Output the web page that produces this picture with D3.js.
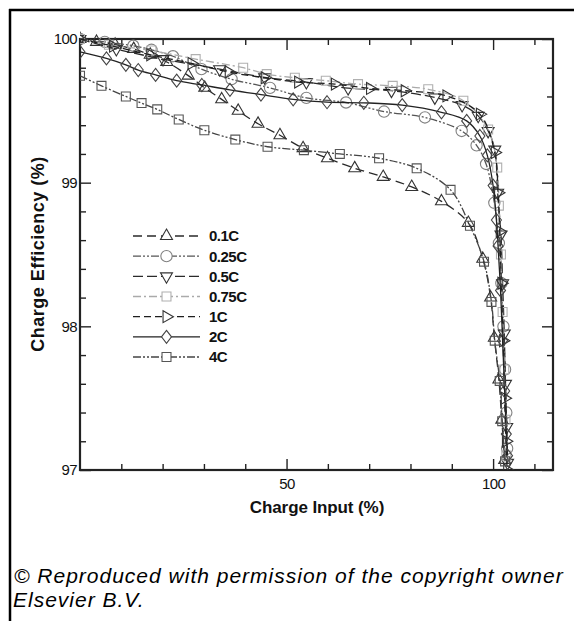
<!DOCTYPE html>
<html><head><meta charset="utf-8">
<script src="https://cdn.jsdelivr.net/npm/d3@7"></script>
<style>
html,body{margin:0;padding:0;background:#fff;}
svg{display:block;font-family:"Liberation Sans",Arial,Helvetica,sans-serif;}
</style></head>
<body>
<svg id="chart" width="574" height="621"></svg>
<script>
// ---------- data ----------
const seriesNames = ["0.1C","0.25C","0.5C","0.75C","1C","2C","4C"];

const x01C = [0, 4, 8.5, 13, 17, 21, 26.2, 30.2, 34.3, 38.3, 43.1, 48.4, 54.0, 59.9, 66.5, 73.4, 80.3, 87.5, 94.0, 97.5, 99.4, 100.3, 101.4, 102.1, 102.8];
const y01C = [100.0, 99.98, 99.96, 99.93, 99.89, 99.84, 99.745, 99.66, 99.58, 99.50, 99.41, 99.33, 99.24, 99.17, 99.10, 99.04, 98.97, 98.87, 98.72, 98.47, 98.2, 97.92, 97.63, 97.35, 97.07];

const x025C = [0, 6, 12.9, 17.3, 22.5, 29.4, 36.7, 46, 54.8, 64.4, 73.6, 83.5, 92.4, 96, 98.3, 100.3, 101.4, 102.0, 102.5, 102.9, 103.2, 103.4];
const y025C = [100.0, 99.98, 99.953, 99.925, 99.88, 99.79, 99.72, 99.66, 99.59, 99.558, 99.495, 99.454, 99.36, 99.26, 99.13, 98.86, 98.58, 98.3, 98.0, 97.7, 97.4, 97.15];

const x05C = [0, 8.8, 20.1, 33.8, 44.7, 54.8, 64.9, 75.4, 85.9, 92.5, 96.4, 98.8, 100.4, 101.1, 101.9, 102.3, 102.7, 103.0, 103.3, 103.5];
const y05C = [100.0, 99.93, 99.86, 99.79, 99.733, 99.70, 99.658, 99.64, 99.593, 99.54, 99.465, 99.36, 99.23, 98.93, 98.64, 98.3, 97.95, 97.6, 97.3, 97.05];

const x075C = [0, 7, 17.3, 28, 39.5, 45.2, 52, 59.5, 67.3, 75.7, 84.3, 92.8, 98.8, 101.0, 101.4, 101.9, 102.3, 102.7, 103.0, 103.2];
const y075C = [100.0, 99.96, 99.92, 99.86, 99.80, 99.756, 99.73, 99.71, 99.686, 99.674, 99.65, 99.57, 99.37, 99.105, 98.84, 98.5, 98.1, 97.7, 97.35, 97.1];

const x1C = [0, 8, 17, 27, 36, 44.7, 52.8, 61.7, 70.2, 78.6, 88.7, 96.8, 100.4, 101.2, 101.6, 102.0, 102.4, 102.8, 103.1, 103.4];
const y1C = [100.0, 99.95, 99.89, 99.83, 99.77, 99.73, 99.70, 99.686, 99.656, 99.64, 99.604, 99.477, 99.21, 98.93, 98.66, 98.3, 97.9, 97.5, 97.2, 97.0];

const x2C = [0, 6.4, 11.1, 14.1, 18.3, 23.4, 29.5, 36.3, 43.8, 51.6, 59.8, 68.7, 78.0, 87.5, 93.6, 96.8, 98.6, 100.0, 100.8, 101.2, 101.8, 102.3, 102.8, 103.2, 103.5];
const y2C = [99.91, 99.865, 99.82, 99.784, 99.75, 99.71, 99.68, 99.646, 99.613, 99.58, 99.56, 99.556, 99.54, 99.49, 99.43, 99.325, 99.19, 98.98, 98.74, 98.56, 98.25, 97.9, 97.55, 97.25, 97.1];

const x4C = [0, 5.2, 11.1, 14.9, 18.7, 23.9, 30.1, 37.6, 45.4, 54.2, 62.9, 72.4, 81.5, 89.7, 94.4, 97.8, 99.6, 100.4, 101.6, 102.2, 102.9];
const y4C = [99.744, 99.674, 99.60, 99.554, 99.51, 99.44, 99.365, 99.30, 99.25, 99.226, 99.20, 99.17, 99.10, 98.95, 98.70, 98.45, 98.17, 97.90, 97.62, 97.34, 97.06];

const xMajorTicks = [50, 100];
const xMinorTicks = [10, 20, 30, 40, 60, 70, 80, 90, 110];
const yMajorTicks = [97, 98, 99, 100];
const yMinorTicks = [97.2,97.4,97.6,97.8,98.2,98.4,98.6,98.8,99.2,99.4,99.6,99.8];

const xTitle = "Charge Input (%)";
const yTitle = "Charge Efficiency (%)";
const credit1 = "\u00A9 Reproduced with permission of the copyright owner";
const credit2 = "Elsevier B.V.";

// ---------- styles ----------
const styles = {
  "0.1C":  {sym: "triUp",    line:"#2a2a2a", mark:"#333", dash:"9,5"},
  "0.25C": {sym: "circle",   line:"#555",    mark:"#808080", dash:"8,2,2,2,2,2"},
  "0.5C":  {sym: "triDown",  line:"#2a2a2a", mark:"#333", dash:"10,4"},
  "0.75C": {sym: "square",   line:"#aaa",    mark:"#b0b0b0", dash:"8,3,2,3"},
  "1C":    {sym: "triRight", line:"#1e1e1e", mark:"#333", dash:"7,4"},
  "2C":    {sym: "diamond",  line:"#222",    mark:"#444", dash:null},
  "4C":    {sym: "square",   line:"#444",    mark:"#555", dash:"8,2,2,2,2,2"}
};
const seriesX = [x01C, x025C, x05C, x075C, x1C, x2C, x4C];
const seriesY = [y01C, y025C, y05C, y075C, y1C, y2C, y4C];
const series = seriesNames.map((n,i)=>({name:n, pts: seriesX[i].map((x,j)=>({x, y: seriesY[i][j]}))}));

// ---------- layout ----------
const svg = d3.select("#chart");
const L = 80, R = 553, T = 39, B = 470;
const x = d3.scaleLinear().domain([0, 114.5]).range([L, R]);
const y = d3.scaleLinear().domain([97, 100]).range([B, T]);

// outer frame
svg.append("line").attr("x1",9).attr("x2",574).attr("y1",10).attr("y2",10).attr("stroke","#000").attr("stroke-width",2.5);
svg.append("line").attr("x1",10).attr("x2",10).attr("y1",9).attr("y2",621).attr("stroke","#000").attr("stroke-width",2.5);

// axes
function styleAxis(g){ g.select(".domain").remove(); g.selectAll("line").attr("stroke","#222").attr("stroke-width",1.4); g.selectAll("text").attr("fill","#111"); }
const tickFont = g => g.selectAll("text").style("font-size","15px").style("letter-spacing","-0.6px");

svg.append("g").attr("transform",`translate(0,${B})`).call(d3.axisBottom(x).tickValues(xMinorTicks).tickSize(-6).tickFormat("")).call(styleAxis);
svg.append("g").attr("transform",`translate(0,${B})`).call(d3.axisBottom(x).tickValues(xMajorTicks).tickSize(-11).tickPadding(8).tickFormat(d3.format("d"))).call(styleAxis).call(tickFont);
svg.append("g").attr("transform",`translate(0,${T})`).call(d3.axisTop(x).tickValues(xMinorTicks).tickSize(-6).tickFormat("")).call(styleAxis);
svg.append("g").attr("transform",`translate(0,${T})`).call(d3.axisTop(x).tickValues(xMajorTicks).tickSize(-11).tickFormat("")).call(styleAxis);

svg.append("g").attr("transform",`translate(${L},0)`).call(d3.axisLeft(y).tickValues(yMinorTicks).tickSize(-6).tickFormat("")).call(styleAxis);
svg.append("g").attr("transform",`translate(${L},0)`).call(d3.axisLeft(y).tickValues(yMajorTicks).tickSize(-11).tickPadding(3).tickFormat(d3.format("d"))).call(styleAxis).call(tickFont);
svg.append("g").attr("transform",`translate(${R},0)`).call(d3.axisRight(y).tickValues(yMinorTicks).tickSize(-6).tickFormat("")).call(styleAxis);
svg.append("g").attr("transform",`translate(${R},0)`).call(d3.axisRight(y).tickValues(yMajorTicks).tickSize(-11).tickFormat("")).call(styleAxis);

// plot frame
svg.append("rect").attr("x",L).attr("y",T).attr("width",R-L).attr("height",B-T)
  .attr("fill","none").attr("stroke","#222").attr("stroke-width",2.2);

// clip
svg.append("clipPath").attr("id","clip").append("rect").attr("x",L).attr("y",T-8).attr("width",R-L).attr("height",B-T+8);

// symbol paths
function symPath(kind){
  switch(kind){
    case "circle": return d3.symbol(d3.symbolCircle, 100)();
    case "square": return d3.symbol(d3.symbolSquare, 80)();
    case "diamond": return "M0,-6.5L5,0L0,6.5L-5,0Z";
    default: return d3.symbol(d3.symbolTriangle, 62)();
  }
}
function symRot(kind){ return kind==="triDown"?180:(kind==="triRight"?90:0); }

const lineGen = d3.line().x(d=>x(d.x)).y(d=>y(d.y)).curve(d3.curveCatmullRom.alpha(0.5));
const plot = svg.append("g").attr("clip-path","url(#clip)");

series.forEach(s=>{
  const st = styles[s.name];
  const g = plot.append("g");
  g.append("path").datum(s.pts).attr("d",lineGen).attr("fill","none")
    .attr("stroke",st.line).attr("stroke-width",1.3).attr("stroke-dasharray",st.dash);
  g.selectAll("path.m").data(s.pts).enter().append("path").attr("class","m")
    .attr("d",symPath(st.sym))
    .attr("transform",d=>`translate(${x(d.x)},${y(d.y)}) rotate(${symRot(st.sym)})`)
    .attr("fill","none").attr("stroke",st.mark).attr("stroke-width",1.1);
});

// legend
const legX1 = 133, legX2 = 200, legM = 166.5, legT = 209;
const legY = d3.scalePoint().domain(seriesNames).range([236, 357]);
seriesNames.forEach(n=>{
  const st = styles[n]; const yy = legY(n);
  svg.append("line").attr("x1",legX1).attr("x2",legX2).attr("y1",yy).attr("y2",yy)
    .attr("stroke",st.line).attr("stroke-width",1.3).attr("stroke-dasharray",st.dash);
  svg.append("path").attr("d",symPath(st.sym)).attr("transform",`translate(${legM},${yy}) rotate(${symRot(st.sym)})`)
    .attr("fill","#fff").attr("stroke",st.mark).attr("stroke-width",1.1);
  svg.append("text").attr("x",legT).attr("y",yy).attr("dy","0.36em").text(n)
    .style("font-size","15px").style("font-weight","bold").style("letter-spacing","-0.5px").attr("fill","#111");
});

// axis titles
svg.append("text").attr("x",317).attr("y",513).attr("text-anchor","middle").text(xTitle)
  .style("font-size","17px").style("font-weight","bold").style("letter-spacing","-0.1px").attr("fill","#111");
svg.append("text").attr("transform","translate(44,254) rotate(-90)").attr("text-anchor","middle").text(yTitle)
  .style("font-size","18px").style("font-weight","bold").style("letter-spacing","0.5px").attr("fill","#111");

// credit
svg.append("text").attr("x",14).attr("y",583).text(credit1)
  .style("font-size","21px").style("font-style","italic").style("letter-spacing","1px").attr("fill","#000");
svg.append("text").attr("x",13).attr("y",607).text(credit2)
  .style("font-size","21px").style("font-style","italic").style("letter-spacing","1px").attr("fill","#000");
</script>
</body></html>
